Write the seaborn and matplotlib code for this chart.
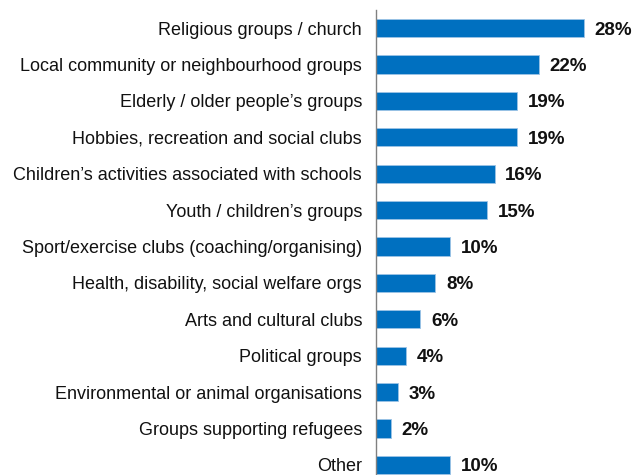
import matplotlib
matplotlib.use("Agg")
import matplotlib.pyplot as plt
import seaborn as sns
import pandas as pd

categories = [
    "Religious groups / church",
    "Local community or neighbourhood groups",
    "Elderly / older people\u2019s groups",
    "Hobbies, recreation and social clubs",
    "Children\u2019s activities associated with schools",
    "Youth / children\u2019s groups",
    "Sport/exercise clubs (coaching/organising)",
    "Health, disability, social welfare orgs",
    "Arts and cultural clubs",
    "Political groups",
    "Environmental or animal organisations",
    "Groups supporting refugees",
    "Other",
]
values = [28, 22, 19, 19, 16, 15, 10, 8, 6, 4, 3, 2, 10]

df = pd.DataFrame({"category": categories, "value": values})

sns.set_theme(style="white")
plt.rcParams["font.family"] = ["Liberation Sans", "DejaVu Sans"]

fig = plt.figure(figsize=(6.34, 4.75), dpi=100)
ax = fig.add_axes([376 / 634, -8 / 475, 252 / 634, 473 / 475])

sns.barplot(data=df, x="value", y="category", orient="h", color="#0070C0",
            saturation=1, width=0.5, edgecolor="#9CC3E6", linewidth=0.6, ax=ax)

ax.set_xlim(0, 34)
ax.set_ylim(12.5, -0.5)
ax.set_xlabel("")
ax.set_ylabel("")
ax.set_xticks([])
for side in ["top", "right", "bottom"]:
    ax.spines[side].set_visible(False)
ax.spines["left"].set_color("#808080")
ax.spines["left"].set_linewidth(1.0)
ax.tick_params(axis="y", length=0, pad=10, labelsize=13, labelcolor="#111111")

for i, v in enumerate(values):
    ax.text(v + 1.45, i, f"{v}%", va="center_baseline", ha="left",
            fontsize=13.5, fontweight="bold", color="#111111")

fig.savefig("out.png", dpi=100)
